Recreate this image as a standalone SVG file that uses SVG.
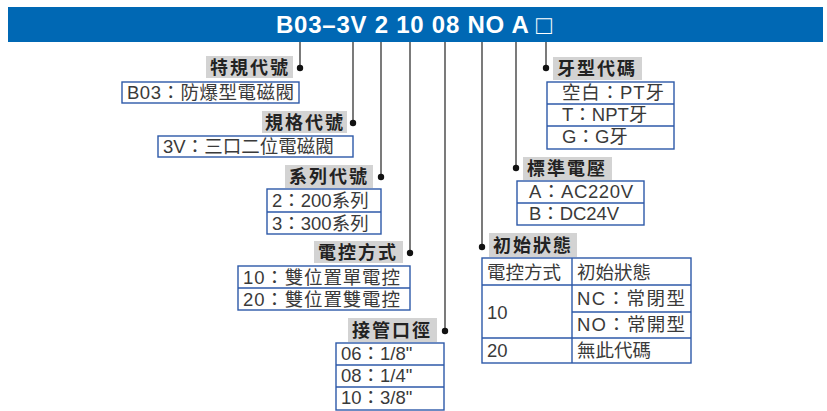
<svg xmlns="http://www.w3.org/2000/svg" width="827" height="411" viewBox="0 0 827 411">
<style>
.band{fill:#0068b4}
.ttl{font-family:"Liberation Sans","Noto Sans CJK TC",sans-serif;font-size:24px;font-weight:bold;fill:#fff}
.ln{stroke:#333;stroke-width:1.3;fill:none}
.dot{fill:#111}
.lbl{fill:#d3d3d3}
.lt{font-family:"Noto Sans CJK TC",sans-serif;font-size:18px;font-weight:bold;fill:#222;letter-spacing:2px}
.box{fill:#fff;stroke:#2d59a8;stroke-width:1.4}
.dv{stroke:#2d59a8;stroke-width:1.4}
.ct{font-family:"Liberation Sans","Noto Sans CJK TC",sans-serif;font-size:18.5px;fill:#3a3a3a}
</style>
<rect width="827" height="411" fill="#fff"/>
<g id="header">
<rect class="band" x="8" y="7" width="815" height="35"/>
<text class="ttl" y="33"><tspan x="276" textLength="252" lengthAdjust="spacing">B03–3V 2 10 08 NO A</tspan> <tspan x="536" y="34" style="font-weight:normal;font-size:26px">□</tspan></text>
</g>
<g id="connectors">
<line class="ln" x1="300" y1="42" x2="300" y2="68"/><circle class="dot" cx="300" cy="68" r="3.2"/>
<line class="ln" x1="353" y1="42" x2="353" y2="123"/><circle class="dot" cx="353" cy="123" r="3.2"/>
<line class="ln" x1="381" y1="42" x2="381" y2="177"/><circle class="dot" cx="381" cy="177" r="3.2"/>
<line class="ln" x1="410" y1="42" x2="410" y2="253"/><circle class="dot" cx="410" cy="253" r="3.2"/>
<line class="ln" x1="445" y1="42" x2="445" y2="331"/><circle class="dot" cx="445" cy="331" r="3.2"/>
<line class="ln" x1="482" y1="42" x2="482" y2="247"/><circle class="dot" cx="482" cy="247" r="3.2"/>
<line class="ln" x1="516" y1="42" x2="516" y2="168"/><circle class="dot" cx="516" cy="168" r="3.2"/>
<line class="ln" x1="546" y1="42" x2="546" y2="68"/><circle class="dot" cx="546" cy="68" r="3.2"/>
</g>
<g id="n1">
<rect class="lbl" x="206" y="56" width="87" height="22"/>
<text class="lt" x="210" y="74">特規代號</text>
<rect class="box" x="122" y="82" width="177" height="21"/>
<text class="ct" x="127" y="99" textLength="167" lengthAdjust="spacing">B03：防爆型電磁閥</text>
</g>
<g id="n2">
<rect class="lbl" x="262" y="111" width="85" height="22"/>
<text class="lt" x="265" y="129">規格代號</text>
<rect class="box" x="158" y="136" width="195" height="21"/>
<text class="ct" x="163" y="153">3V：三口二位電磁閥</text>
</g>
<g id="n3">
<rect class="lbl" x="285" y="165" width="88" height="23"/>
<text class="lt" x="289" y="183">系列代號</text>
<rect class="box" x="267" y="189" width="114" height="45"/>
<line class="dv" x1="267" y1="212" x2="381" y2="212"/>
<text class="ct" x="272" y="207">2：200系列</text>
<text class="ct" x="272" y="230">3：300系列</text>
</g>
<g id="n4">
<rect class="lbl" x="314" y="241" width="89" height="22"/>
<text class="lt" x="318" y="259">電控方式</text>
<rect class="box" x="238" y="266" width="172" height="44"/>
<line class="dv" x1="238" y1="288" x2="410" y2="288"/>
<text class="ct" x="243" y="284" textLength="157" lengthAdjust="spacing">10：雙位置單電控</text>
<text class="ct" x="243" y="306" textLength="157" lengthAdjust="spacing">20：雙位置雙電控</text>
</g>
<g id="n5">
<rect class="lbl" x="348" y="318" width="89" height="24"/>
<text class="lt" x="352" y="337">接管口徑</text>
<rect class="box" x="336" y="343" width="108" height="67"/>
<line class="dv" x1="336" y1="365" x2="444" y2="365"/>
<line class="dv" x1="336" y1="387" x2="444" y2="387"/>
<text class="ct" x="341" y="360">06：1/8"</text>
<text class="ct" x="341" y="382">08：1/4"</text>
<text class="ct" x="341" y="404">10：3/8"</text>
</g>
<g id="n6">
<rect class="lbl" x="489" y="233" width="88" height="24"/>
<text class="lt" x="493" y="252">初始狀態</text>
<rect class="box" x="482" y="258" width="209" height="105"/>
<line class="dv" x1="572" y1="258" x2="572" y2="363"/>
<line class="dv" x1="482" y1="285" x2="691" y2="285"/>
<line class="dv" x1="572" y1="312" x2="691" y2="312"/>
<line class="dv" x1="482" y1="338" x2="691" y2="338"/>
<text class="ct" x="487" y="279">電控方式</text>
<text class="ct" x="577" y="279">初始狀態</text>
<text class="ct" x="487" y="319">10</text>
<text class="ct" x="577" y="305" textLength="108" lengthAdjust="spacing">NC：常閉型</text>
<text class="ct" x="577" y="331" textLength="108" lengthAdjust="spacing">NO：常開型</text>
<text class="ct" x="487" y="357">20</text>
<text class="ct" x="577" y="357">無此代碼</text>
</g>
<g id="n7">
<rect class="lbl" x="523" y="157" width="89" height="23"/>
<text class="lt" x="527" y="175">標準電壓</text>
<rect class="box" x="517" y="181" width="127" height="44"/>
<line class="dv" x1="517" y1="203" x2="644" y2="203"/>
<text class="ct" x="529" y="198" textLength="104" lengthAdjust="spacing">A：AC220V</text>
<text class="ct" x="529" y="220" textLength="90" lengthAdjust="spacing">B：DC24V</text>
</g>
<g id="n8">
<rect class="lbl" x="553" y="57" width="89" height="23"/>
<text class="lt" x="557" y="75">牙型代碼</text>
<rect class="box" x="547" y="82" width="127" height="67"/>
<line class="dv" x1="547" y1="104" x2="674" y2="104"/>
<line class="dv" x1="547" y1="126" x2="674" y2="126"/>
<text class="ct" x="562" y="99" textLength="102" lengthAdjust="spacing">空白：PT牙</text>
<text class="ct" x="562" y="121">T：NPT牙</text>
<text class="ct" x="562" y="143">G：G牙</text>
</g>
</svg>
